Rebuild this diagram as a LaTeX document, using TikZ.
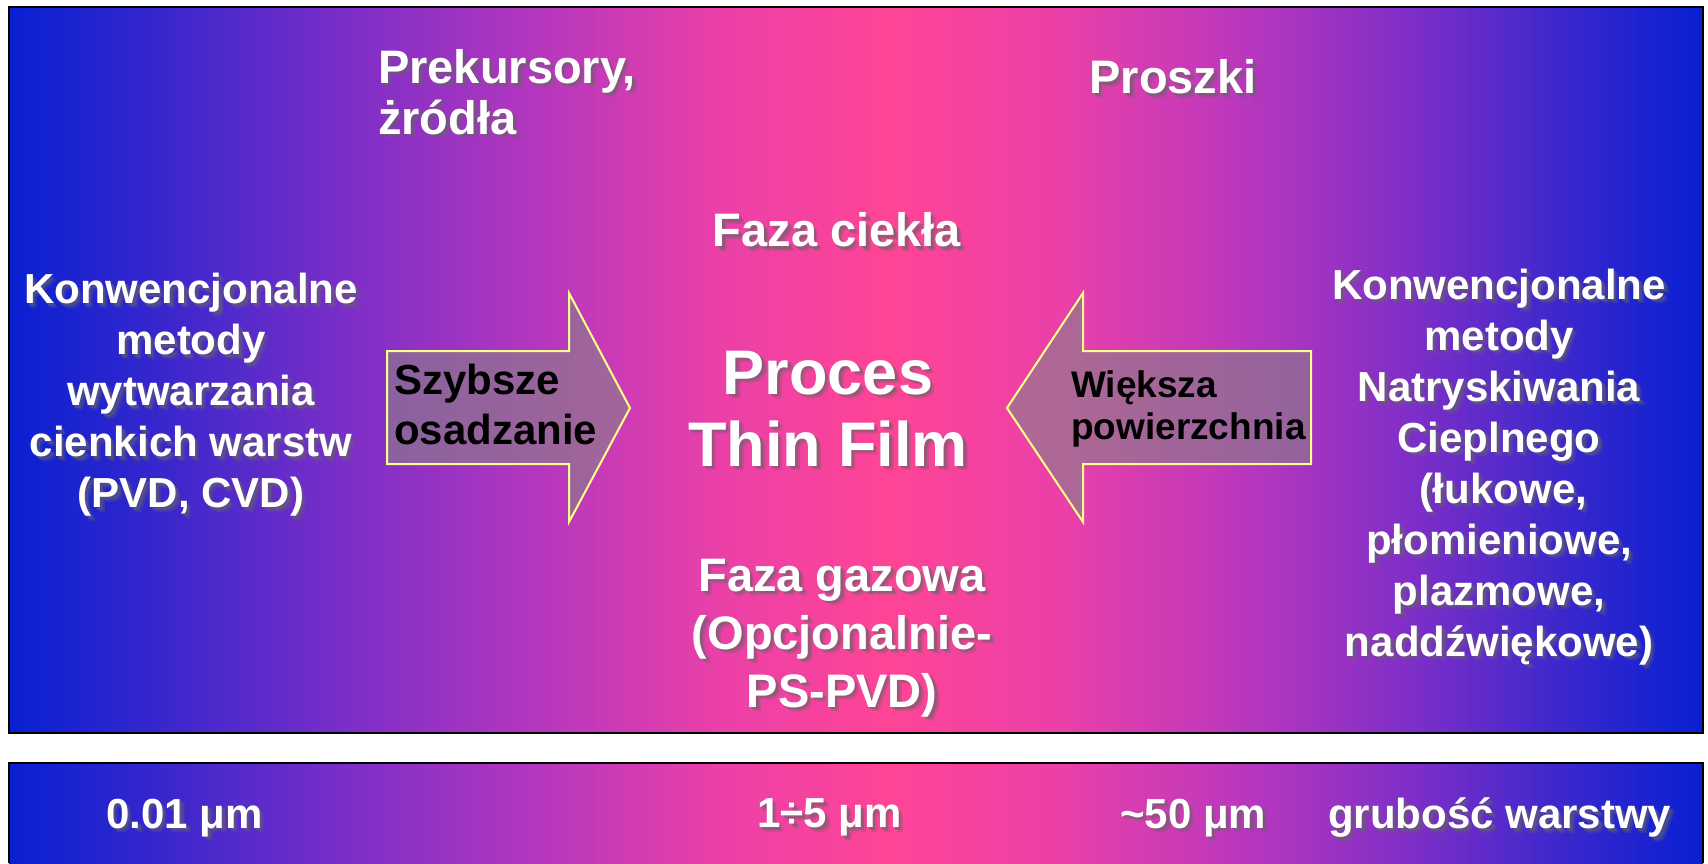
\documentclass[tikz,border=0pt]{standalone}
\usepackage{fontspec}
\setmainfont{Liberation Sans}
\definecolor{g0}{RGB}{8,32,210}
\definecolor{g1}{RGB}{50,38,205}
\definecolor{g2}{RGB}{125,46,200}
\definecolor{g3}{RGB}{190,56,188}
\definecolor{g4}{RGB}{235,64,168}
\definecolor{g5}{RGB}{255,68,150}
\definecolor{arrowfill}{RGB}{140,125,138}
\definecolor{arrowline}{RGB}{255,255,140}
\definecolor{shcol}{RGB}{100,100,100}
\pgfdeclarehorizontalshading{bgshade}{100bp}{color(0bp)=(g0); color(25bp)=(g0); color(29bp)=(g1); color(35bp)=(g2); color(41.5bp)=(g3); color(46bp)=(g4); color(51bp)=(g5); color(56bp)=(g4); color(61bp)=(g3); color(66.5bp)=(g2); color(71.5bp)=(g1); color(75bp)=(g0); color(100bp)=(g0)}
\newcommand\shl[1]{%
  \makebox[0pt][l]{\hspace{4.5pt}\raisebox{-4.5pt}{\pgfsetfillopacity{0.3}\color{shcol}#1\pgfsetfillopacity{1}}}%
  \makebox[0pt][l]{\hspace{2.5pt}\raisebox{-2.5pt}{\pgfsetfillopacity{0.5}\color{shcol}#1\pgfsetfillopacity{1}}}%
  #1}
\tikzset{
  wt/.style={text=white, inner sep=0pt, align=center},
  bt/.style={text=black, inner sep=0pt, align=left, anchor=west},
  fA/.style={font=\fontsize{42}{51}\selectfont\bfseries},
  fB/.style={font=\fontsize{47}{51}\selectfont\bfseries},
  fC/.style={font=\fontsize{47}{58}\selectfont\bfseries},
  fD/.style={font=\fontsize{63}{72}\selectfont\bfseries},
  fE/.style={font=\fontsize{42}{50}\selectfont\bfseries},
  fF/.style={font=\fontsize{37}{42}\selectfont\bfseries},
  blockarrow/.style={fill=arrowfill, fill opacity=0.65, draw=arrowline, line width=2pt, line join=miter},
  frame/.style={draw=black, line width=2.5pt}
}
\begin{document}
\begin{tikzpicture}[x=1pt,y=-1pt]
\useasboundingbox (0,0) rectangle (1708,863);
\fill[white] (0,0) rectangle (1708,863);
% top panel
\shade[shading=bgshade] (9,7) rectangle (1703,733);
\draw[frame] (9,7) rectangle (1703,733);
% bottom panel
\shade[shading=bgshade] (9,763) rectangle (1703,863);
\draw[frame] (9,863) -- (9,763) -- (1703,763) -- (1703,863);
% block arrows
\draw[blockarrow] (387,351) -- (569,351) -- (569,293) -- (630,408) -- (569,522) -- (569,464) -- (387,464) -- cycle;
\draw[blockarrow] (1311,351) -- (1083,351) -- (1083,293) -- (1007,408) -- (1083,522) -- (1083,464) -- (1311,464) -- cycle;
\node[bt,fE] (szyb) at (394,404) {Szybsze\\osadzanie};
\node[bt,fF] (wiek) at (1071,409) {Większa\\powierzchnia};
% white texts
\node[wt,fB,align=left,anchor=west] (prek) at (378,94) {\shl{Prekursory,}\\\shl{żródła}};
\node[wt,fB] (prosz) at (1173,79) {\shl{Proszki}};
\node[wt,fB] (ciekla) at (837,232) {\shl{Faza ciekła}};
\node[wt,fA] (lewy) at (191,397) {\shl{Konwencjonalne}\\\shl{metody}\\\shl{wytwarzania}\\\shl{cienkich warstw}\\\shl{(PVD, CVD)}};
\node[wt,fD] (proces) at (828,411) {\shl{Proces}\\\shl{Thin Film}};
\node[wt,fA] (prawy) at (1499,469) {\shl{Konwencjonalne}\\\shl{metody}\\\shl{Natryskiwania}\\\shl{Cieplnego}\\\hspace*{8pt}\shl{(łukowe,}\\\shl{płomieniowe,}\\\shl{plazmowe,}\\\shl{naddźwiękowe)}};
\node[wt,fC] (gaz) at (842,640) {\shl{Faza gazowa}\\\shl{(Opcjonalnie-}\\\shl{PS-PVD)}};
% bottom texts
\node[wt,fA,anchor=west] (t1) at (106,820) {\shl{0.01 μm}};
\node[wt,fA,anchor=west] (t2) at (757,820) {\shl{1÷5 μm}};
\node[wt,fA,anchor=west] (t3) at (1120,820) {\shl{\textasciitilde50 μm}};
\node[wt,fA,anchor=west] (t4) at (1328,820) {\shl{grubość warstwy}};
\end{tikzpicture}
\end{document}
